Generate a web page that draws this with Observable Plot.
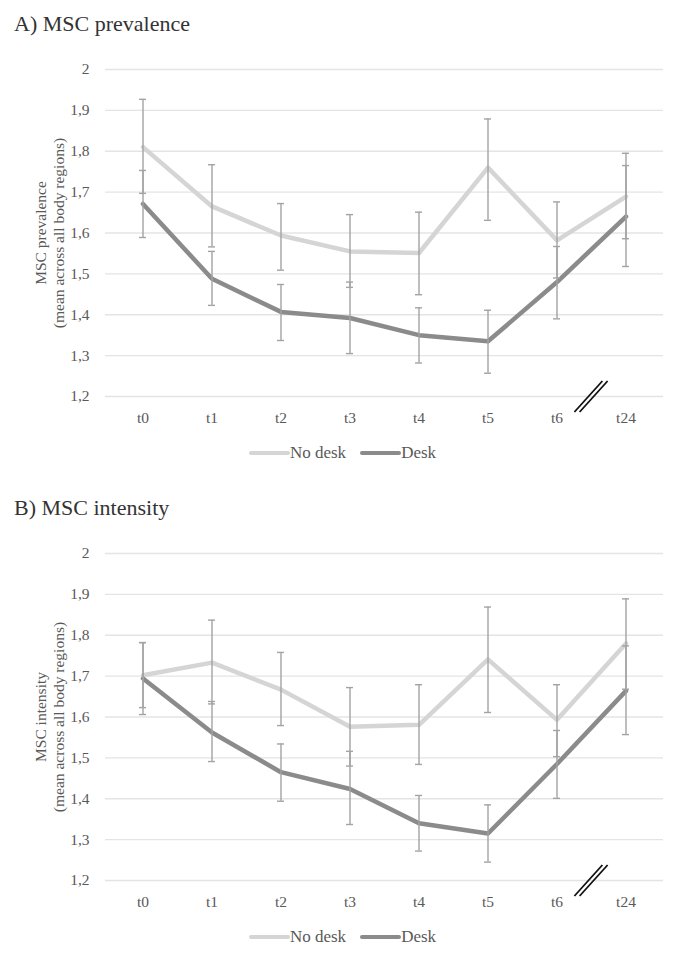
<!DOCTYPE html>
<html>
<head>
<meta charset="utf-8">
<script src="https://cdn.jsdelivr.net/npm/d3@7"></script>
<script src="https://cdn.jsdelivr.net/npm/@observablehq/plot@0.6"></script>
<style>
  html, body { margin: 0; padding: 0; background: #fff; }
  #page { position: relative; width: 685px; height: 962px; background: #fff; overflow: hidden; font-family: "Liberation Serif", "Times New Roman", serif; }
  .title { position: absolute; left: 14px; font-size: 22px; color: #333; line-height: 1; white-space: nowrap; }
  .chart { position: absolute; left: 0; }
  .legend { position: absolute; left: 0; width: 685px; display: flex; justify-content: center; align-items: center; gap: 14px; font-size: 17px; color: #595959; }
  .legend .item { display: flex; align-items: center; }
  .legend .sw { display: inline-block; width: 41px; height: 4px; border-radius: 2px; }
</style>
</head>
<body>
<div id="page"></div>
<script>
// ---- data ----
const timepoints = ["t0", "t1", "t2", "t3", "t4", "t5", "t6", "t24"];
const yTicks = [1.2, 1.3, 1.4, 1.5, 1.6, 1.7, 1.8, 1.9, 2];
const seriesNames = ["No desk", "Desk"];
const breakBefore = "t24";

// A) MSC prevalence
const prevNoDesk   = [1.810, 1.665, 1.594, 1.555, 1.551, 1.760, 1.582, 1.689];
const prevNoDeskLo = [1.697, 1.566, 1.509, 1.467, 1.449, 1.631, 1.490, 1.586];
const prevNoDeskHi = [1.927, 1.767, 1.672, 1.645, 1.651, 1.879, 1.676, 1.795];
const prevDesk     = [1.671, 1.488, 1.407, 1.392, 1.350, 1.335, 1.480, 1.640];
const prevDeskLo   = [1.589, 1.423, 1.337, 1.305, 1.282, 1.257, 1.390, 1.518];
const prevDeskHi   = [1.753, 1.555, 1.474, 1.480, 1.417, 1.411, 1.567, 1.765];

// B) MSC intensity
const intNoDesk   = [1.702, 1.733, 1.667, 1.576, 1.581, 1.741, 1.593, 1.780];
const intNoDeskLo = [1.623, 1.632, 1.579, 1.480, 1.484, 1.611, 1.503, 1.668];
const intNoDeskHi = [1.782, 1.837, 1.758, 1.672, 1.679, 1.869, 1.679, 1.889];
const intDesk     = [1.694, 1.562, 1.465, 1.424, 1.340, 1.315, 1.485, 1.664];
const intDeskLo   = [1.606, 1.491, 1.394, 1.337, 1.272, 1.245, 1.401, 1.557];
const intDeskHi   = [1.782, 1.638, 1.534, 1.516, 1.408, 1.385, 1.567, 1.774];

const colors = { "No desk": "#d5d5d5", "Desk": "#8b8b8b" };
const errColor = "#a3a3a3";
const gridColor = "#e4e4e4";
const textColor = "#595959";

function rows(name, v, lo, hi) {
  return timepoints.map((t, i) => ({ t, series: name, v: v[i], lo: lo[i], hi: hi[i] }));
}

function breakMark(index, scales) {
  const x0 = scales.x(breakBefore);
  const y0 = scales.y(yTicks[0]);
  const g = d3.create("svg:g");
  for (const off of [-2.6, 2.6]) {
    g.append("line")
      .attr("x1", x0 - 14 + off).attr("y1", y0 + 16)
      .attr("x2", x0 + 14 + off).attr("y2", y0 - 15)
      .attr("stroke", "#111").attr("stroke-width", 1.8);
  }
  return g.node();
}

function panel(top, title, yLabel, nd, dk) {
  const page = document.getElementById("page");
  const t = document.createElement("div");
  t.className = "title";
  t.style.top = (top + 13) + "px";
  t.textContent = title;
  page.appendChild(t);

  const all = nd.concat(dk);
  const chart = Plot.plot({
    width: 685,
    height: 385,
    marginTop: 24,
    marginBottom: 34,
    marginLeft: 105,
    marginRight: 22,
    style: { fontFamily: "Liberation Serif, Times New Roman, serif", fontSize: "15.5px", color: textColor, background: "transparent", overflow: "visible" },
    x: { type: "band", domain: timepoints, padding: 0, label: null, tickSize: 0, tickPadding: 15 },
    y: { domain: [1.2, 2], ticks: yTicks, tickFormat: d => String(d).replace(".", ","), tickSize: 0, tickPadding: 16, label: null },
    marks: [
      Plot.ruleY(yTicks, { stroke: gridColor, strokeWidth: 1.3 }),
      Plot.line(nd, { x: "t", y: "v", stroke: colors["No desk"], strokeWidth: 4.5 }),
      Plot.line(dk, { x: "t", y: "v", stroke: colors["Desk"], strokeWidth: 4.5 }),
      Plot.ruleX(all, { x: "t", y1: "lo", y2: "hi", stroke: errColor, strokeWidth: 1.4 }),
      Plot.tickY(all, { x: "t", y: "lo", stroke: errColor, strokeWidth: 1.4, inset: 31 }),
      Plot.tickY(all, { x: "t", y: "hi", stroke: errColor, strokeWidth: 1.4, inset: 31 }),
      Plot.text([yLabel], { text: d => d, frameAnchor: "left", textAnchor: "middle", lineAnchor: "middle", rotate: -90, dx: -56, fontSize: 15.5, lineHeight: 1.12, fill: textColor }),
      breakMark
    ]
  });
  chart.classList.add("chart");
  chart.style.top = (top + 45) + "px";
  page.appendChild(chart);

  const leg = document.createElement("div");
  leg.className = "legend";
  leg.style.top = (top + 441) + "px";
  leg.style.height = "24px";
  for (const name of seriesNames) {
    const item = document.createElement("span");
    item.className = "item";
    const sw = document.createElement("span");
    sw.className = "sw";
    sw.style.background = colors[name];
    const lab = document.createElement("span");
    lab.textContent = name;
    item.appendChild(sw);
    item.appendChild(lab);
    leg.appendChild(item);
  }
  page.appendChild(leg);
}

panel(0, "A) MSC prevalence", "MSC prevalence\n(mean across all body regions)",
  rows("No desk", prevNoDesk, prevNoDeskLo, prevNoDeskHi),
  rows("Desk", prevDesk, prevDeskLo, prevDeskHi));

panel(484, "B) MSC intensity", "MSC intensity\n(mean across all body regions)",
  rows("No desk", intNoDesk, intNoDeskLo, intNoDeskHi),
  rows("Desk", intDesk, intDeskLo, intDeskHi));
</script>
</body>
</html>
